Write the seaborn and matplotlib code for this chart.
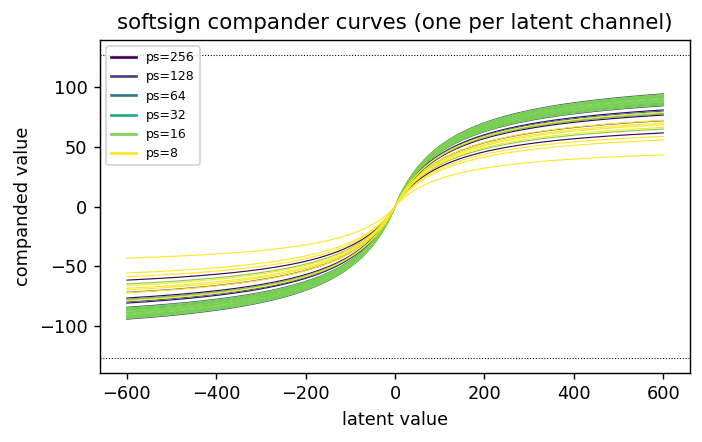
import numpy as np
import pandas as pd
import matplotlib
matplotlib.use("Agg")
import matplotlib.pyplot as plt
from matplotlib.lines import Line2D
import seaborn as sns

# patch sizes (legend labels), one group of latent channels per patch size
patch_sizes = [256, 128, 64, 32, 16, 8]
# softsign compander parameters per channel: y = scale * x / (|x| + knee)
scale_256 = [103.9, 97.9, 92.7, 74.6]
knee_256 = [125, 125, 125, 125]
scale_128 = [114.2, 102.1, 94.2, 87.0]
knee_128 = [125, 125, 125, 125]
scale_64 = [111.2, 105.1, 96.7]
knee_64 = [125, 125, 125]
scale_32 = [113.0, 107.5, 103.3]
knee_32 = [125, 125, 125]
scale_16 = [113.6, 113.0, 112.4, 111.5, 110.6, 109.6, 108.7, 107.5,
            106.3, 105.4, 104.5, 103.6, 102.7, 94.2, 78.5]
knee_16 = [125] * 15
scale_8 = [95.5, 87.4, 84.6, 82.9, 80.2, 71.1, 67.4, 52.3]
knee_8 = [125, 125, 125, 125, 125, 125, 125, 125]
clip_level = 127
x_min, x_max = -600, 600

scales = [scale_256, scale_128, scale_64, scale_32, scale_16, scale_8]
knees = [knee_256, knee_128, knee_64, knee_32, knee_16, knee_8]

x = np.linspace(x_min, x_max, 601)
rows = []
cid = 0
for ps, sc, kn in zip(patch_sizes, scales, knees):
    for s, k in zip(sc, kn):
        y = s * x / (np.abs(x) + k)
        rows.append(pd.DataFrame({"x": x, "y": y, "ps": f"ps={ps}", "channel": cid}))
        cid += 1
df = pd.concat(rows, ignore_index=True)

hue_order = [f"ps={p}" for p in patch_sizes]
colors = [plt.cm.viridis(v) for v in np.linspace(0, 1, len(patch_sizes))]
palette = dict(zip(hue_order, colors))

DPI = 128
fig, ax = plt.subplots(figsize=(702 / DPI, 442 / DPI), dpi=DPI)
sns.lineplot(data=df, x="x", y="y", hue="ps", units="channel", estimator=None,
             hue_order=hue_order, palette=palette, lw=0.65, ax=ax, legend=False,
             sort=False)
ax.axhline(clip_level, color="black", ls=":", lw=0.6)
ax.axhline(-clip_level, color="black", ls=":", lw=0.6)
ax.margins(x=0.05, y=0.05)

handles = [Line2D([0], [0], color=palette[h], lw=1.5) for h in hue_order]
ax.legend(handles, hue_order, loc="upper left", fontsize=7)
ax.set_title("softsign compander curves (one per latent channel)")
ax.set_xlabel("latent value")
ax.set_ylabel("companded value")
fig.subplots_adjust(left=0.1425, right=0.983, top=0.9095, bottom=0.156)
fig.savefig("out.png", dpi=DPI)
